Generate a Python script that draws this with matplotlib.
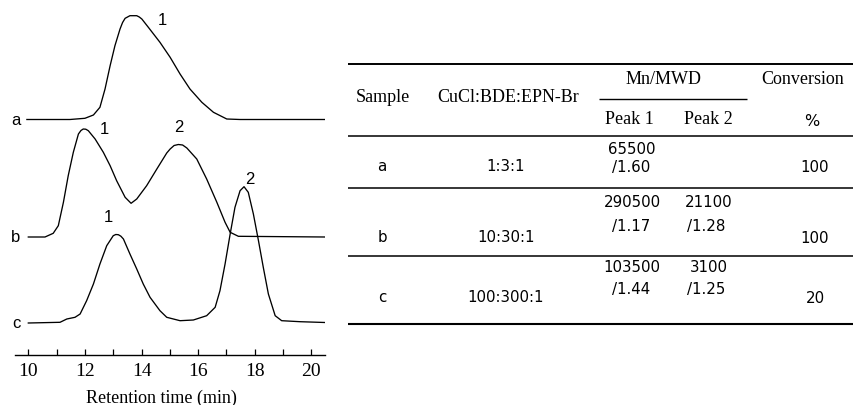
import matplotlib
matplotlib.use("Agg")
import matplotlib.pyplot as plt
from matplotlib.ticker import MultipleLocator

# --- GPC traces (retention time in min, detector signal in arbitrary units) ---
t_a = [9.95, 11.47, 12.00, 12.30, 12.53, 12.71, 12.89, 13.06, 13.24, 13.33, 13.42, 13.59, 13.83,
       13.92, 14.01, 14.24, 14.65, 15.01, 15.36, 15.71, 16.13, 16.54, 17.01, 17.48, 20.48]
h_a = [0, 0, 1.2, 4.5, 12.2, 30.5, 53.8, 73.8, 90.5, 97, 101.2, 103.8, 103.8,
       102.5, 100.5, 92.2, 77.2, 62.2, 45.5, 30.5, 17.2, 7.2, 0.5, 0, 0]

t_b = [10.00, 10.59, 10.88, 11.06, 11.24, 11.41, 11.59, 11.77, 11.86, 11.94, 12.03, 12.12, 12.36,
       12.65, 12.89, 13.12, 13.42, 13.63, 13.83, 14.18, 14.54, 14.89, 15.01, 15.15, 15.30, 15.45,
       15.60, 15.95, 16.30, 16.66, 16.95, 17.13, 17.42, 20.48]
h_b = [0, 0, 3.7, 11.3, 34.7, 61.3, 84.7, 103, 106.5, 108, 107.8, 106.3, 98,
       84.7, 71.3, 56.3, 39.7, 33.7, 38, 51.3, 68, 84, 88, 91.5, 92.5, 92,
       89, 78, 58, 34.7, 14.7, 4.7, 0.7, 0]

t_c = [10.00, 11.12, 11.36, 11.65, 11.83, 12.06, 12.30, 12.53, 12.77, 13.00, 13.09, 13.18, 13.27,
       13.36, 13.59, 13.83, 14.06, 14.30, 14.65, 14.89, 15.36, 15.83, 16.30, 16.60, 16.77, 16.95,
       17.13, 17.30, 17.48, 17.62, 17.77, 17.95, 18.13, 18.30, 18.48, 18.72, 18.95, 19.60, 20.48]
h_c = [0, 0.7, 4, 5.7, 9, 22.3, 39, 59, 77.3, 87.3, 88.5, 88.3, 86.8,
       84, 69, 54, 39, 25.7, 12.3, 5.7, 2.3, 3, 7.3, 15.7, 32.3, 59,
       89, 115.7, 132.3, 136.3, 130.7, 109, 82.3, 55.7, 29, 7.3, 2.3, 1.3, 0.5]

# peak labels: (trace, time, height above baseline, text)
peak_labels = [("a", 14.72, 100, "1"), ("b", 12.67, 109, "1"), ("b", 15.33, 111, "2"),
               ("c", 12.82, 106, "1"), ("c", 17.83, 144, "2")]

# --- table values ---
samples = ["a", "b", "c"]
ratios = ["1:3:1", "10:30:1", "100:300:1"]
peak1_mn = ["65500", "290500", "103500"]
peak1_mwd = ["/1.60", "/1.17", "/1.44"]
peak2_mn = ["", "21100", "3100"]
peak2_mwd = ["", "/1.28", "/1.25"]
conversion = ["100", "100", "20"]

SERIF = "Liberation Serif"
SANS = "Liberation Sans"
NUM = "DejaVu Sans"

W, H = 854, 406
fig = plt.figure(figsize=(W / 100, H / 100), dpi=100)

# chromatogram panel (y axis in pixel-like units, axis line at 0)
ax = fig.add_axes([15 / W, (H - 356) / H, 310 / W, 356 / H])
offsets = {"a": 235.5, "b": 118, "c": 32}
for key, t, h in (("a", t_a, h_a), ("b", t_b, h_b), ("c", t_c, h_c)):
    ax.plot(t, [offsets[key] + v for v in h], color="black", lw=0.95)
    ax.text(9.565, offsets[key], key, ha="center", va="center", fontsize=12, family=SANS,
            clip_on=False)
for key, t, h, s in peak_labels:
    ax.text(t, offsets[key] + h, s, ha="center", va="center", fontsize=12, family=SANS)

ax.set_xlim(9.53, 20.48)
ax.set_ylim(0, 356)
for sp in ("left", "right", "top"):
    ax.spines[sp].set_visible(False)
ax.spines["bottom"].set_linewidth(1.0)
ax.set_yticks([])
ax.xaxis.set_major_locator(MultipleLocator(2))
ax.xaxis.set_minor_locator(MultipleLocator(1))
ax.tick_params(axis="x", which="both", direction="in", length=4, width=0.9, pad=5)
ax.set_xticks(range(10, 21, 2))
for lab in ax.get_xticklabels():
    lab.set_family(SERIF)
    lab.set_fontsize(14)
ax.patch.set_alpha(0)
fig.text(161.5 / W, 1 - 398 / H, "Retention time (min)", ha="center", va="center",
         fontsize=13, family=SERIF)

# table panel drawn in pixel coordinates
tb = fig.add_axes([0, 0, 1, 1])
tb.set_xlim(0, W)
tb.set_ylim(H, 0)
tb.axis("off")
tb.patch.set_alpha(0)

for y, lw in ((65, 1.4), (137, 1.1), (189, 1.1), (257, 1.1), (325, 1.5)):
    tb.hlines(y, 348, 853, color="black", lw=lw)
tb.hlines(100, 599, 747, color="black", lw=1.0)

hdr = dict(ha="center", va="center", fontsize=13, family=SERIF)
tb.text(383, 97, "Sample", **hdr)
tb.text(508, 97, "CuCl:BDE:EPN-Br", **hdr)
tb.text(664, 80, "Mn/MWD", **hdr)
tb.text(803, 80, "Conversion", **hdr)
tb.text(629, 120, "Peak 1", **hdr)
tb.text(708, 120, "Peak 2", **hdr)
tb.text(812, 121, "%", ha="center", va="center", fontsize=11.5, family=NUM)

row_label_y = [167, 238, 298]
row_mn_y = [150, 203, 268]
row_mwd_y = [168, 227, 290]
cell = dict(ha="center", va="center", fontsize=10.8, family=NUM)
for i in range(len(samples)):
    tb.text(382, row_label_y[i], samples[i], **cell)
    tb.text(506, row_label_y[i], ratios[i], **cell)
    tb.text(632, row_mn_y[i], peak1_mn[i], **cell)
    tb.text(631, row_mwd_y[i], peak1_mwd[i], **cell)
    tb.text(709, row_mn_y[i], peak2_mn[i], **cell)
    tb.text(706, row_mwd_y[i], peak2_mwd[i], **cell)
    tb.text(815, row_label_y[i] + 1, conversion[i], **cell)

fig.savefig("out.png", dpi=100)
